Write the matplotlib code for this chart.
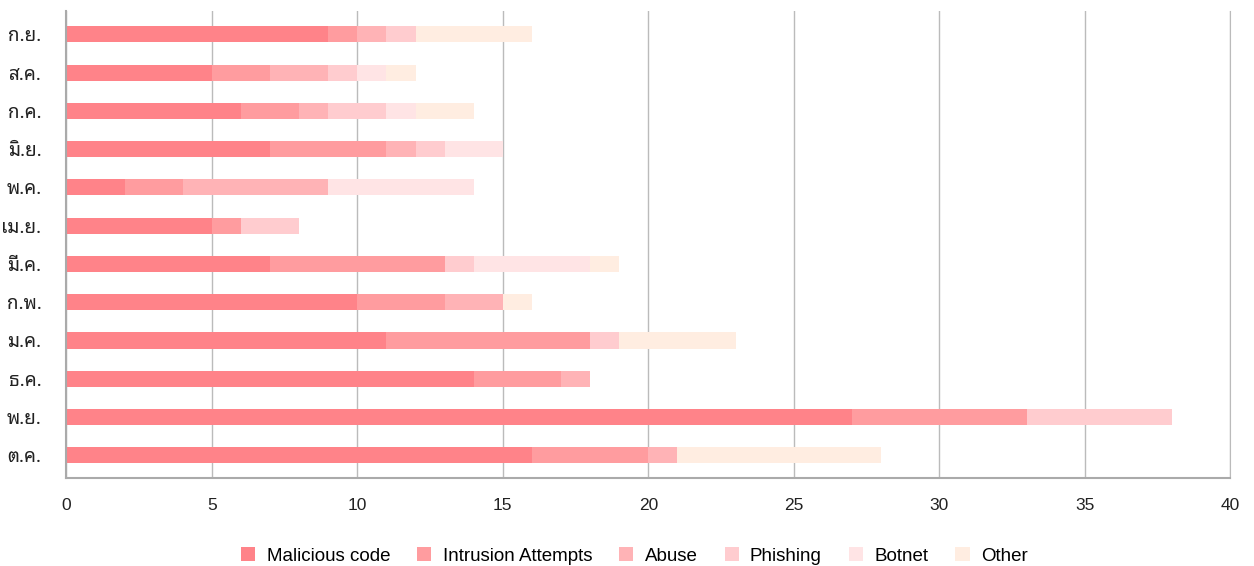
import matplotlib
matplotlib.use('Agg')
import matplotlib.pyplot as plt

plt.rcParams['font.family'] = ['Liberation Sans', 'Noto Sans Thai Looped', 'DejaVu Sans']

# Thai month labels, bottom to top
months = ['ต.ค.', 'พ.ย.', 'ธ.ค.', 'ม.ค.', 'ก.พ.', 'มี.ค.', 'เม.ย.', 'พ.ค.', 'มิ.ย.', 'ก.ค.', 'ส.ค.', 'ก.ย.']
malicious = [16, 27, 14, 11, 10, 7, 5, 2, 7, 6, 5, 9]
intrusion = [4, 6, 3, 7, 3, 6, 1, 2, 4, 2, 2, 1]
abuse = [1, 0, 1, 0, 2, 0, 0, 5, 1, 1, 2, 1]
phishing = [0, 5, 0, 1, 0, 1, 2, 0, 1, 2, 1, 1]
botnet = [0, 0, 0, 0, 0, 4, 0, 5, 2, 1, 1, 0]
other = [7, 0, 0, 4, 1, 1, 0, 0, 0, 2, 1, 4]

names = ['Malicious code', 'Intrusion Attempts', 'Abuse', 'Phishing', 'Botnet', 'Other']
colors = ['#FF8389', '#FF9C9F', '#FFB3B6', '#FFCCCF', '#FFE4E5', '#FFEDE1']

fig, ax = plt.subplots(figsize=(12.54, 5.66), dpi=100)
fig.subplots_adjust(left=0.053, right=0.981, top=0.98, bottom=0.155)

series = [malicious, intrusion, abuse, phishing, botnet, other]
left = [0] * len(months)
for vals, name, c in zip(series, names, colors):
    ax.barh(months, vals, left=left, height=0.42, color=c, label=name)
    left = [a + b for a, b in zip(left, vals)]

ax.set_xlim(0, 40)
ax.set_xticks(range(0, 41, 5))
ax.set_ylim(-0.6, 11.6)
ax.grid(axis='x', color='#BBBBBB', linewidth=1)
ax.set_axisbelow(True)
ax.spines['top'].set_visible(False)
ax.spines['right'].set_color('#BBBBBB')
ax.spines['left'].set_color('#AAAAAA')
ax.spines['bottom'].set_color('#AAAAAA')
ax.spines['left'].set_linewidth(1.5)
ax.spines['bottom'].set_linewidth(1.5)
ax.tick_params(axis='x', length=0, labelsize=12.5, pad=14, labelcolor='#222222')
ax.tick_params(axis='y', length=0, pad=18, labelcolor='#222222')
for lbl in ax.get_yticklabels():
    lbl.set_fontfamily(['Noto Sans Thai Looped', 'DejaVu Sans'])
    lbl.set_fontsize(13.5)

ax.legend(loc='upper center', bbox_to_anchor=(0.488, -0.112), ncol=6, frameon=False,
          handlelength=0.75, handleheight=0.75, handletextpad=0.6, columnspacing=1.45,
          fontsize=13.5)

fig.savefig('out.png', dpi=100)
